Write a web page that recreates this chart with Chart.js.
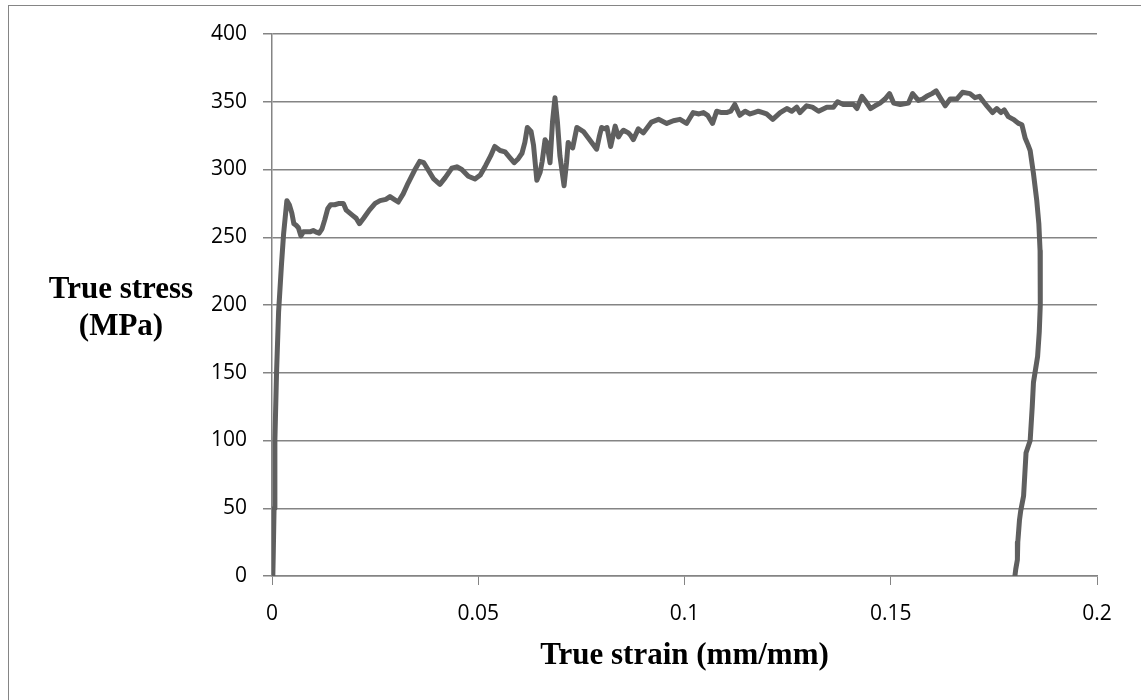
<!DOCTYPE html>
<html>
<head>
<meta charset="utf-8">
<script src="https://cdn.jsdelivr.net/npm/chart.js@4.4.0/dist/chart.umd.min.js"></script>
<style>
  html, body { margin: 0; padding: 0; background: #fff; }
  #wrap { position: relative; width: 1141px; height: 700px; overflow: hidden; }
  /* outer chart frame, runs off the right and bottom edges */
  #frame { position: absolute; left: 8px; top: 5px; width: 1200px; height: 800px; border: 1px solid #858585; }
  #stressChart { position: absolute; left: 0; top: 0; }
</style>
</head>
<body>
<div id="wrap">
  <div id="frame"></div>
  <canvas id="stressChart" width="1141" height="700"></canvas>
</div>
<script>
// --- data ---
const strain = [
  0.0002, 0.0003, 0.0005, 0.0007, 0.0011, 0.0016, 0.0023, 0.0028, 0.0036, 0.0042,
  0.0048, 0.0053, 0.0058, 0.0064, 0.0070, 0.0076, 0.0084, 0.0092, 0.0100, 0.0106,
  0.0114, 0.0121, 0.0128, 0.0135, 0.0142, 0.0152, 0.0163, 0.0173, 0.0180, 0.0188,
  0.0196, 0.0204, 0.0212, 0.0222, 0.0236, 0.0250, 0.0262, 0.0276, 0.0286, 0.0296,
  0.0306, 0.0318, 0.0330, 0.0345, 0.0358, 0.0368, 0.0378, 0.0392, 0.0407, 0.0420,
  0.0436, 0.0448, 0.0460, 0.0476, 0.0492, 0.0505, 0.0518, 0.0530, 0.0540, 0.0553,
  0.0565, 0.0576, 0.0587, 0.0597, 0.0606, 0.0613, 0.0619, 0.0628, 0.0634, 0.0642,
  0.0650, 0.0655, 0.0662, 0.0666, 0.0674, 0.0680, 0.0686, 0.0692, 0.0698, 0.0708,
  0.0714, 0.0718, 0.0724, 0.0729, 0.0739, 0.0755, 0.0770, 0.0787, 0.0794, 0.0799,
  0.0806, 0.0812, 0.0821, 0.0832, 0.0840, 0.0846, 0.0852, 0.0864, 0.0870, 0.0876,
  0.0888, 0.0900, 0.0910, 0.0920, 0.0937, 0.0957, 0.0973, 0.0989, 0.1005, 0.1013,
  0.1021, 0.1035, 0.1046, 0.1056, 0.1068, 0.1078, 0.1090, 0.1102, 0.1112, 0.1122,
  0.1134, 0.1147, 0.1159, 0.1169, 0.1179, 0.1190, 0.1199, 0.1214, 0.1232, 0.1248,
  0.1260, 0.1272, 0.1280, 0.1296, 0.1310, 0.1325, 0.1345, 0.1361, 0.1371, 0.1385,
  0.1398, 0.1410, 0.1418, 0.1430, 0.1440, 0.1451, 0.1462, 0.1474, 0.1486, 0.1497,
  0.1507, 0.1523, 0.1543, 0.1553, 0.1567, 0.1577, 0.1587, 0.1600, 0.1610, 0.1622,
  0.1632, 0.1644, 0.1660, 0.1674, 0.1692, 0.1704, 0.1715, 0.1725, 0.1733, 0.1747,
  0.1757, 0.1767, 0.1775, 0.1785, 0.1797, 0.1810, 0.1818, 0.1826, 0.1833, 0.1838,
  0.1846, 0.1854, 0.1859, 0.1862, 0.1863, 0.1862, 0.1860, 0.1856, 0.1846, 0.1843,
  0.1838, 0.1828, 0.1825, 0.1822, 0.1815, 0.1812, 0.1808, 0.1807, 0.1803, 0.1801
];
const stress = [
  0, 15, 50, 100, 150, 195, 230, 252, 277, 274,
  268, 260, 259, 257, 251, 254, 254, 254, 255, 254,
  253, 256, 263, 271, 274, 274, 275, 275, 270, 268,
  266, 264, 260, 264, 270, 275, 277, 278, 280, 278,
  276, 282, 290, 299, 306, 305, 300, 293, 289, 294,
  301, 302, 300, 295, 293, 296, 303, 310, 317, 314,
  313, 309, 305, 308, 312, 320, 331, 328, 318, 292,
  298, 306, 322, 320, 305, 335, 353, 335, 310, 288,
  305, 320, 317, 316, 331, 328, 322, 315, 325, 331,
  330, 331, 317, 332, 324, 327, 329, 327, 325, 322,
  330, 327, 331, 335, 337, 334, 336, 337, 334, 338,
  342, 341, 342, 340, 334, 343, 342, 342, 343, 348,
  340, 343, 341, 342, 343, 342, 341, 337, 342, 345,
  343, 346, 342, 347, 346, 343, 346, 346, 350, 348,
  348, 348, 345, 354, 350, 345, 347, 349, 352, 356,
  349, 348, 349, 356, 351, 352, 354, 356, 358, 352,
  347, 352, 352, 357, 356, 353, 354, 350, 347, 342,
  345, 342, 344, 339, 337, 334, 333, 323, 318, 314,
  297, 277, 260, 240, 220, 200, 180, 162, 143, 125,
  100, 91, 75, 59, 48, 41, 25, 12, 5, 0
];

const xTicks = [0, 0.05, 0.1, 0.15, 0.2];
const yTicks = [0, 50, 100, 150, 200, 250, 300, 350, 400];

const xTitle = 'True strain (mm/mm)';
const yTitleLines = ['True stress', '(MPa)'];

const axisGray = '#848484';
const tickFont = { family: '"Open Sans", sans-serif', size: 21 };

// --- draws the two axis titles the way the original sheet has them ---
const axisTitles = {
  id: 'axisTitles',
  afterDraw(chart) {
    const ctx = chart.ctx;
    const area = chart.chartArea;
    ctx.save();
    ctx.fillStyle = '#000';
    ctx.font = 'bold 31px "Liberation Serif", "Times New Roman", serif';
    ctx.textAlign = 'center';
    ctx.textBaseline = 'alphabetic';
    ctx.fillText(xTitle, (area.left + area.right) / 2, 664);
    yTitleLines.forEach((line, i) => {
      ctx.fillText(line, 121, 298 + i * 37);
    });
    ctx.restore();
  }
};

function renderStressChart() {
  const ctx = document.getElementById('stressChart');
  if (!ctx) {
    console.error('Canvas "stressChart" not found.');
    return;
  }

  const points = strain.map((x, i) => ({ x: x, y: stress[i] }));

  new Chart(ctx, {
    type: 'scatter',
    data: {
      datasets: [{
        data: points,
        showLine: true,
        borderColor: '#5f5f5f',
        borderWidth: 5,
        borderJoinStyle: 'round',
        borderCapStyle: 'round',
        pointRadius: 0,
        pointHoverRadius: 0,
        tension: 0
      }]
    },
    options: {
      responsive: false,
      animation: false,
      layout: { padding: { top: 34, right: 44, left: 0, bottom: 0 } },
      plugins: {
        legend: { display: false },
        tooltip: { enabled: false }
      },
      scales: {
        x: {
          type: 'linear',
          min: 0,
          max: 0.2,
          afterFit: (scale) => { scale.height = 124; },
          afterBuildTicks: (scale) => { scale.ticks = xTicks.map(v => ({ value: v })); },
          ticks: {
            color: '#000',
            font: tickFont,
            padding: 16,
            maxRotation: 0,
            callback: (v) => String(+v.toFixed(2))
          },
          grid: { drawOnChartArea: false, drawTicks: true, tickLength: 9, color: axisGray, lineWidth: 1 },
          border: { display: true, color: axisGray, width: 1.5 }
        },
        y: {
          min: 0,
          max: 400,
          afterFit: (scale) => { scale.width = 272; },
          afterBuildTicks: (scale) => { scale.ticks = yTicks.map(v => ({ value: v })); },
          ticks: {
            color: '#000',
            font: tickFont,
            padding: 16
          },
          grid: { drawOnChartArea: true, drawTicks: true, tickLength: 9, color: axisGray, lineWidth: 1.5 },
          border: { display: true, color: axisGray, width: 1.5 }
        }
      }
    },
    plugins: [axisTitles]
  });
}

document.addEventListener('DOMContentLoaded', renderStressChart);
</script>
</body>
</html>
